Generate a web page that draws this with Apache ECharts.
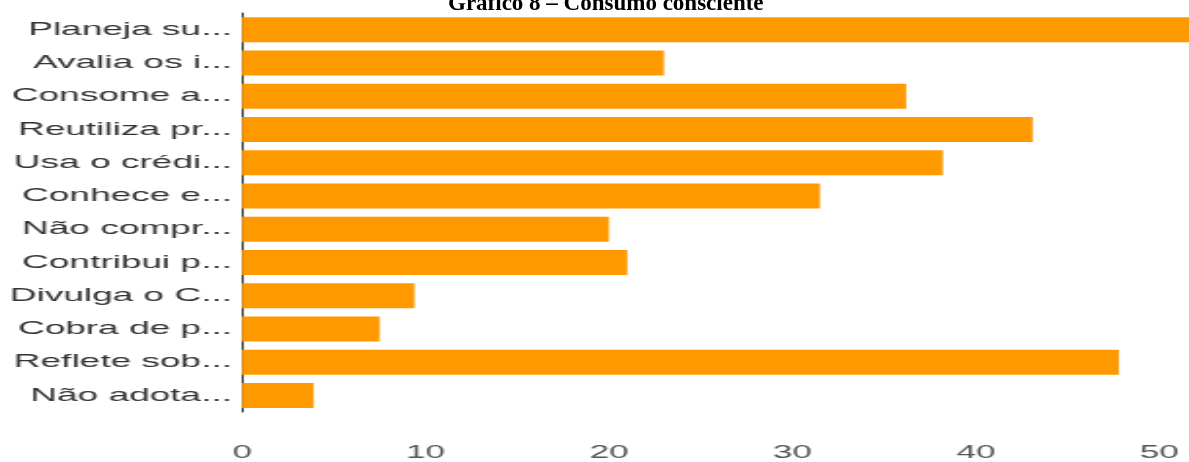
<!DOCTYPE html>
<html>
<head>
<meta charset="utf-8">
<script src="https://cdn.jsdelivr.net/npm/echarts@6/dist/echarts.min.js"></script>
<style>
html,body{margin:0;padding:0;background:#fff;overflow:hidden;}
#wrap{position:relative;width:1189px;height:462px;overflow:hidden;}
#c{position:absolute;left:0;top:0;width:610px;height:462px;transform:scaleX(1.94918);transform-origin:0 0;}
#t{position:absolute;left:0;top:0;width:1189px;height:40px;}
</style>
</head>
<body>
<div id="wrap"><div id="c"></div><div id="t"></div></div>
<script>
const categories = ["Planeja su...", "Avalia os i...", "Consome a...", "Reutiliza pr...", "Usa o crédi...", "Conhece e...", "Não compr...", "Contribui p...", "Divulga o C...", "Cobra de p...", "Reflete sob...", "Não adota..."];
const values = [54, 23, 36.2, 43.1, 38.2, 31.5, 20, 21, 9.4, 7.5, 47.8, 3.9];
const tickValues = [0, 10, 20, 30, 40, 50];
const titleMain = "Gráfico 8";
const titleRest = " – Consumo consciente";

const S = 1189 / 610; // horizontal stretch of the original picture
const chart = echarts.init(document.getElementById('c'), null, {renderer: 'canvas'});
chart.setOption({
  animation: false,
  backgroundColor: '#ffffff',
  grid: {left: 242 / S, right: 0, top: 13, bottom: 50, containLabel: false},
  xAxis: {
    type: 'value',
    min: 0,
    max: 51.3,
    interval: 10,
    axisLine: {show: false},
    axisTick: {show: false},
    splitLine: {show: false},
    axisLabel: {
      color: '#555',
      fontFamily: 'Liberation Sans',
      fontSize: 18,
      margin: 32,
      formatter: function (v) { return tickValues.indexOf(v) >= 0 ? String(v) : ''; }
    }
  },
  yAxis: {
    type: 'category',
    inverse: true,
    data: categories,
    axisLine: {show: true, lineStyle: {color: '#333', width: 1}},
    axisTick: {show: false},
    axisLabel: {color: '#333', fontFamily: 'Liberation Sans', fontSize: 19, margin: 10 / S}
  },
  series: [{
    type: 'bar',
    data: values,
    barWidth: 25,
    clip: false,
    itemStyle: {color: '#FF9900'}
  }]
});

const titleChart = echarts.init(document.getElementById('t'), null, {renderer: 'canvas'});
titleChart.setOption({
  animation: false,
  title: {
    text: '{b|' + titleMain + '}{n|' + titleRest + '}',
    left: 443,
    top: -12,
    textStyle: {
      rich: {
        b: {fontFamily: 'Liberation Serif', fontWeight: 'bold', fontSize: 23, color: '#000'},
        n: {fontFamily: 'Liberation Serif', fontSize: 23, color: '#000'}
      }
    }
  }
});
</script>
</body>
</html>
